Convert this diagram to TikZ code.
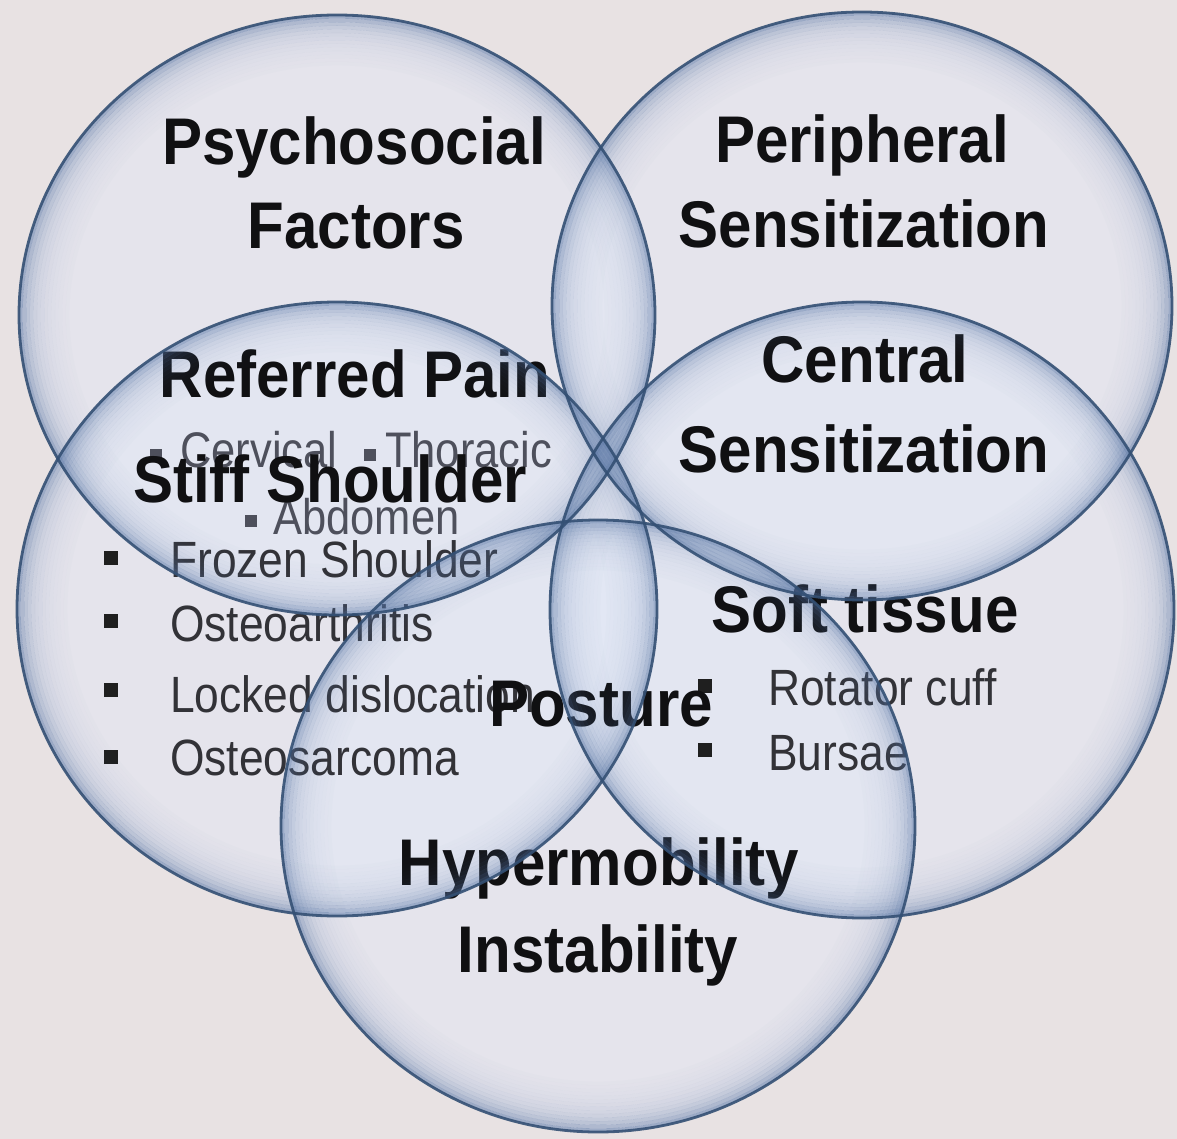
\documentclass[tikz,border=0pt]{standalone}
\usepackage{fontspec}
\setmainfont{Liberation Sans}
\newfontfamily\titlefont{Liberation Sans}[FakeStretch=0.91]
\newfontfamily\itemfont{Liberation Sans}[FakeStretch=0.87]
\definecolor{bgcol}{RGB}{232,226,227}
\definecolor{tintcol}{RGB}{226,233,250}
\definecolor{rimcol}{RGB}{80,110,158}
\definecolor{edgecol}{RGB}{52,80,116}
\definecolor{titlecol}{RGB}{16,16,18}
\definecolor{itemcol}{RGB}{50,50,55}
\definecolor{subcol}{RGB}{78,80,92}
\tikzset{
  title/.style={font=\titlefont\bfseries\fontsize{66}{70}\selectfont, text=titlecol, inner sep=0pt, anchor=base},
  item/.style={font=\itemfont\fontsize{51}{55}\selectfont, text=itemcol, inner sep=0pt, anchor=base west},
  subitem/.style={font=\itemfont\fontsize{50}{54}\selectfont, text=subcol, inner sep=0pt, anchor=base west},
  bsq/.style={rectangle, fill=black!88, minimum size=14pt, inner sep=0pt},
  bsqs/.style={rectangle, fill=subcol, minimum size=12pt, inner sep=0pt},
  tint/.style={fill=tintcol, fill opacity=0.4},
  edge/.style={draw=edgecol, line width=2.8pt, draw opacity=0.9}
}
\newcommand\glowell[3]{%
  \foreach \k/\o in {0/0.48,1/0.36,2/0.27,3/0.21,4/0.16,5/0.125,6/0.10,7/0.08,8/0.062,9/0.048,10/0.037,11/0.028,12/0.02,13/0.014}{%
    \pgfmathsetmacro\grx{#2-1.8-3.6*\k}%
    \pgfmathsetmacro\gry{#3-1.8-3.6*\k}%
    \draw[rimcol, line width=3.7pt, draw opacity=\o] (#1) ellipse [x radius=\grx pt, y radius=\gry pt];
  }%
}
\begin{document}
\begin{tikzpicture}[x=1pt, y=-1pt]
\useasboundingbox (0,0) rectangle (1177,1139);
\fill[bgcol] (0,0) rectangle (1177,1139);
% circle centres
\coordinate (cA) at (337,315);
\coordinate (cB) at (862,306);
\coordinate (cC) at (337,609);
\coordinate (cD) at (862,610);
\coordinate (cE) at (598,826);
% light tint
\fill[tint] (cA) ellipse [x radius=318pt, y radius=300pt];
\fill[tint] (cB) ellipse [x radius=310pt, y radius=294pt];
\fill[tint] (cC) ellipse [x radius=320pt, y radius=307pt];
\fill[tint] (cD) ellipse [x radius=312pt, y radius=308pt];
\fill[tint] (cE) ellipse [x radius=317pt, y radius=306pt];
% titles
\node[title] (psy1) at (354,165) {Psychosocial};
\node[title] (psy2) at (356,249) {Factors};
\node[title] (per1) at (862,163) {Peripheral};
\node[title] (per2) at (864,248) {Sensitization};
\node[title] (ref) at (355,397) {Referred Pain};
\node[title] (cen1) at (865,382) {Central};
\node[title] (cen2) at (864,472) {Sensitization};
% referred pain items
\node[bsqs] (bc) at (156,455) {};
\node[subitem] (cerv) at (180,467) {Cervical};
\node[bsqs] (bt) at (370,455) {};
\node[subitem] (thor) at (385,467) {Thoracic};
\node[bsqs] (ba) at (251,521) {};
\node[subitem] (abd) at (273,534) {Abdomen};
\node[title] (stiff) at (330,502) {Stiff Shoulder};
% stiff shoulder items
\node[bsq] (b1) at (111,558) {};
\node[item] (fro) at (170,577) {Frozen Shoulder};
\node[bsq] (b2) at (111,621) {};
\node[item] (ost) at (170,641) {Osteoarthritis};
\node[bsq] (b3) at (111,690) {};
\node[item] (loc) at (170,712) {Locked dislocation};
\node[bsq] (b4) at (111,757) {};
\node[item] (sar) at (170,775) {Osteosarcoma};
% soft tissue
\node[title] (soft) at (865,632) {Soft tissue};
\node[bsq] (b5) at (705,686) {};
\node[item] (rot) at (768,705) {Rotator cuff};
\node[bsq] (b6) at (705,750) {};
\node[item] (bur) at (768,770) {Bursae};
% posture and bottom
\node[title] (post) at (601,726) {Posture};
\node[title] (hyp) at (599,885) {Hypermobility};
\node[title] (ins) at (598,972) {Instability};
% rim glow
\glowell{cA}{318}{300}
\glowell{cB}{310}{294}
\glowell{cC}{320}{307}
\glowell{cD}{312}{308}
\glowell{cE}{317}{306}
% outlines
\draw[edge] (cA) ellipse [x radius=318pt, y radius=300pt];
\draw[edge] (cB) ellipse [x radius=310pt, y radius=294pt];
\draw[edge] (cC) ellipse [x radius=320pt, y radius=307pt];
\draw[edge] (cD) ellipse [x radius=312pt, y radius=308pt];
\draw[edge] (cE) ellipse [x radius=317pt, y radius=306pt];
\end{tikzpicture}
\end{document}
